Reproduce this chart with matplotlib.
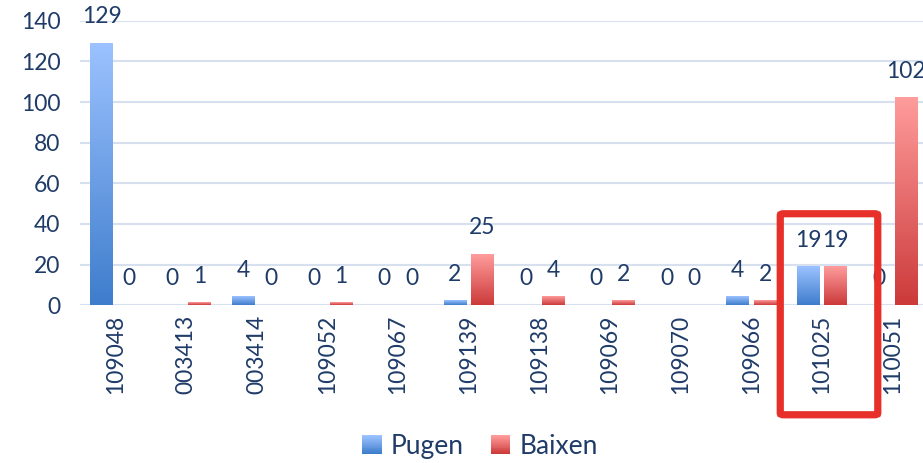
import matplotlib
matplotlib.use("Agg")
import matplotlib.pyplot as plt
import numpy as np
from matplotlib.colors import LinearSegmentedColormap
from matplotlib.patches import Rectangle, FancyBboxPatch
from matplotlib.legend_handler import HandlerBase

categories = ["109048", "003413", "003414", "109052", "109067", "109139",
              "109138", "109069", "109070", "109066", "101025", "110051"]
pugen = [129, 0, 4, 0, 0, 2, 0, 0, 0, 4, 19, 0]
baixen = [0, 1, 0, 1, 0, 25, 4, 2, 0, 2, 19, 102]
series_names = ["Pugen", "Baixen"]

text_color = "#1F3B68"
grid_color = "#D6E0EE"
blue_cmap = LinearSegmentedColormap.from_list("blue", ["#3E7DCC", "#9CC2FF"])
red_cmap = LinearSegmentedColormap.from_list("red", ["#CC3A3A", "#FF9C9C"])

plt.rcParams['font.family'] = ['Lato', 'DejaVu Sans']

fig = plt.figure(figsize=(9.23, 4.63), dpi=100)
ax = fig.add_axes([0.0867, 0.341, 1 - 0.0867, 0.614])

x = np.arange(len(categories))
width = 0.32
gap = 0.07
ymax = 140


def gradient_bars(bars, cmap):
    grad = np.linspace(0, 1, 256).reshape(-1, 1)
    for b in bars:
        h = b.get_height()
        if h <= 0:
            continue
        x0 = b.get_x()
        ax.imshow(grad, cmap=cmap, origin="lower", aspect="auto",
                  extent=[x0, x0 + b.get_width(), 0, h], zorder=3)
        b.set_facecolor("none")


b1 = ax.bar(x - (width + gap) / 2, pugen, width, zorder=3, linewidth=0)
b2 = ax.bar(x + (width + gap) / 2, baixen, width, zorder=3, linewidth=0)
gradient_bars(b1, blue_cmap)
gradient_bars(b2, red_cmap)

for bars, vals in ((b1, pugen), (b2, baixen)):
    for b, v in zip(bars, vals):
        ax.annotate(str(v), (b.get_x() + b.get_width() / 2, v),
                    xytext=(0, 19), textcoords="offset points",
                    ha="center", va="center", fontsize=16.5,
                    color=text_color, annotation_clip=False)

ax.set_xlim(-0.5, 11.43)
ax.set_ylim(0, ymax)
ax.set_yticks(np.arange(0, ymax + 1, 20))
ax.set_xticks(x)
ax.set_xticklabels(categories, rotation=90)
ax.tick_params(axis="both", length=0, labelsize=16.5, labelcolor=text_color)
ax.tick_params(axis="x", pad=7)
ax.tick_params(axis="y", pad=14)
ax.grid(axis="y", color=grid_color, linewidth=1.5, zorder=0)
for s in ax.spines.values():
    s.set_visible(False)

# highlight box around 101025
box = FancyBboxPatch((10 - 0.59, -54), 1.38, 99,
                     boxstyle="round,pad=0,rounding_size=0.05",
                     mutation_aspect=14,
                     linewidth=5.2, edgecolor="#E8302A", facecolor="none",
                     clip_on=False, zorder=5)
ax.add_patch(box)


class GradientHandler(HandlerBase):
    def __init__(self, cmap):
        super().__init__()
        self.cmap = cmap

    def create_artists(self, legend, orig_handle, xdescent, ydescent,
                       width, height, fontsize, trans):
        n = 20
        side = height * 1.05
        arts = []
        for i in range(n):
            r = Rectangle((-xdescent + (width - side) / 2, -ydescent + i * side / n),
                          side, side / n + 0.2, facecolor=self.cmap(i / (n - 1)),
                          edgecolor="none", transform=trans)
            arts.append(r)
        return arts


h1 = Rectangle((0, 0), 1, 1)
h2 = Rectangle((0, 0), 1, 1)
fig.legend([h1, h2], series_names, loc="center", bbox_to_anchor=(0.52, 0.035),
           ncol=2, frameon=False, fontsize=19, labelcolor=text_color,
           handlelength=0.75, handletextpad=0.35, columnspacing=1.0,
           handler_map={h1: GradientHandler(blue_cmap), h2: GradientHandler(red_cmap)})

fig.savefig("out.png", dpi=100)
